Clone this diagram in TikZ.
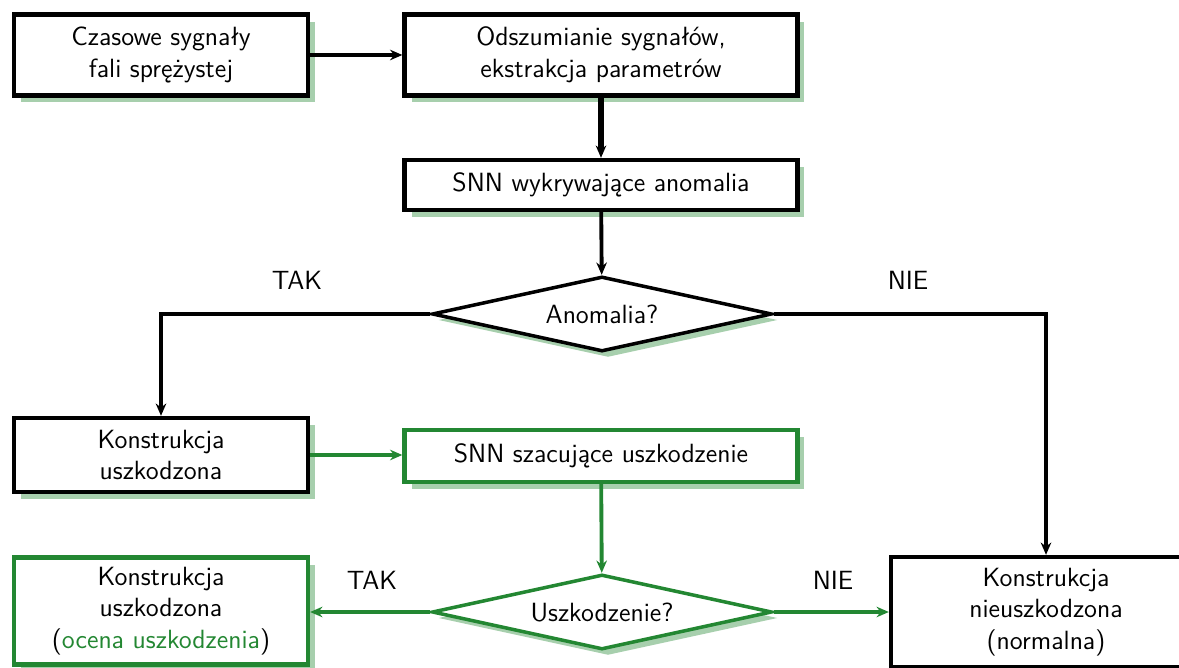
\documentclass[tikz,border=0pt]{standalone}
\usepackage{fontspec}
\usetikzlibrary{shapes.geometric,arrows.meta,shadows}
\definecolor{zielony}{RGB}{35,135,50}

\begin{document}
\begin{tikzpicture}[x=0.02cm,y=-0.02cm,>={Stealth[length=7pt,width=6pt]},
    font=\sffamily\fontsize{15}{18}\selectfont,
    box/.style={rectangle,draw,line width=2.5pt,fill=white,minimum height=1.62cm,minimum width=5.88cm,align=center,
        drop shadow={fill=zielony,opacity=0.4,shadow xshift=0.14cm,shadow yshift=-0.14cm}},
    wide/.style={minimum width=7.86cm},
    decision/.style={diamond,draw,line width=2pt,fill=white,aspect=4.5,inner sep=1pt,minimum width=6.8cm,minimum height=1.5cm,
        drop shadow={fill=zielony,opacity=0.4,shadow xshift=0.12cm,shadow yshift=-0.12cm}},
    conn/.style={line width=2.2pt},
    gconn/.style={line width=2.2pt,draw=zielony}]
\useasboundingbox (0,0) rectangle (1179,668);
\node[box] (sig) at (161,55) {Czasowe sygnały\\fali sprężystej};
\node[box,wide] (prep) at (601,55) {Odszumianie sygnałów,\\ekstrakcja parametrów};
\node[box,wide,minimum height=1.0cm] (snn1) at (601,185) {SNN wykrywające anomalia};
\node[decision] (anom) at (602,314) {Anomalia?};
\node[box,minimum height=1.48cm] (usz) at (161,455) {Konstrukcja\\uszkodzona};
\node[box,wide,draw=zielony,minimum height=1.04cm] (snn2) at (601,456) {SNN szacujące uszkodzenie};
\node[decision,draw=zielony] (dmg) at (602,612) {Uszkodzenie?};
\node[box,draw=zielony,minimum height=2.14cm] (ocena) at (161,611) {Konstrukcja\\uszkodzona\\(\textcolor{zielony}{ocena uszkodzenia})};
\node[box,minimum height=2.2cm,minimum width=6.2cm] (norm) at (1046,612) {Konstrukcja\\nieuszkodzona\\(normalna)};
\node (tak1) at (297,280) {TAK};
\node (nie1) at (908,280) {NIE};
\node (tak2) at (372,580) {TAK};
\node (nie2) at (833,580) {NIE};
\draw[->,conn] (sig) -- (prep); \draw[->,conn,line width=3pt] (prep) -- (snn1); \draw[->,conn] (snn1) -- (anom);
\draw[->,conn] (anom.west) -| (usz.north); \draw[->,conn] (anom.east) -| (norm.north);
\draw[->,gconn] (usz.east) -- (usz.east -| snn2.west); \draw[->,gconn] (snn2) -- (dmg);
\draw[->,gconn] (dmg.west) -- (dmg.west -| ocena.east); \draw[->,gconn] (dmg.east) -- (dmg.east -| norm.west);
\end{tikzpicture}
\end{document}
